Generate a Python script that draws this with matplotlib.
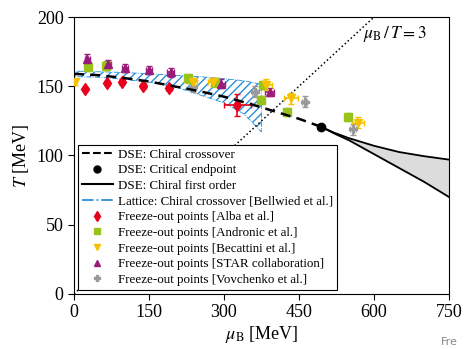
import numpy as np
import matplotlib
matplotlib.use('Agg')
import matplotlib.pyplot as plt
from matplotlib.lines import Line2D

plt.rcParams['font.family'] = ['Liberation Serif', 'DejaVu Serif']
plt.rcParams['mathtext.fontset'] = 'stix'

## DSE chiral crossover (dashed) up to the critical endpoint ##
mu_cross = [0, 50, 100, 150, 200, 250, 300, 350, 400, 450, 495]
T_cross = [159, 158, 156, 153.5, 150, 146.5, 142.5, 137.5, 132, 126.5, 120.6]

## Critical endpoint ##
mu_cep = [495]
T_cep = [120.6]

## DSE first order region (two boundaries) ##
mu_first = [495, 520, 550, 600, 650, 700, 750]
T_first_up = [120.6, 116.5, 112.5, 107, 102.5, 99.5, 97]
T_first_lo = [120.6, 116, 111, 101, 91, 81, 70]

## Lattice crossover band ##
mu_lat = [0, 50, 100, 150, 200, 250, 300, 340, 375]
T_lat_up = [161, 160.5, 160, 159, 158, 157, 155.5, 154, 151.5]
T_lat_lo = [157, 156.5, 155, 153, 150, 144, 138, 130, 117]

## mu_B / T = 3 line ##
mu_ratio = [0, 750]
T_ratio = [0, 250]

## Freeze-out points ##
mu_alba = [22, 67, 97, 139, 191, 327]
T_alba = [147.8, 152.1, 152.8, 150.1, 149.0, 136.5]
xerr_alba = [2, 3, 4, 5, 6, 27]
yerr_alba = [1.5, 1.5, 1.5, 1.5, 1.5, 7.8]

mu_andr = [29, 65, 229, 282, 375, 379, 427, 549]
T_andr = [163.7, 165, 155.7, 152.8, 140, 151, 131.6, 128]

mu_beca = [3, 238, 278, 385, 435, 569]
T_beca = [152.8, 153, 153.3, 151, 141.3, 123.7]
xerr_beca = [2, 8, 10, 12, 14, 12]
yerr_beca = [2, 3, 3, 4, 4, 4]

mu_star = [27, 69, 103, 150, 194, 295, 392]
T_star = [170, 166, 163, 162, 160, 152, 146]
xerr_star = [5, 6, 6, 6, 7, 8, 9]
yerr_star = [3, 3, 3, 3, 3, 3, 3]

mu_vov = [239, 362, 462, 559]
T_vov = [149.7, 146, 138.9, 119]
xerr_vov = [5, 5, 5, 6]
yerr_vov = [4, 4, 4, 4]

c_red = '#e8001c'
c_green = '#99c21a'
c_yel = '#f7c100'
c_pur = '#9a1b79'
c_gray = '#9a9a9a'
c_blue = '#2a8fd8'

fig = plt.figure(figsize=(4.65, 3.49), dpi=100)
ax = fig.add_axes([0.159, 0.158, 0.8066, 0.793])

# lattice band (hatched)
ax.fill_between(mu_lat, T_lat_lo, T_lat_up, facecolor='none', edgecolor=c_blue,
                hatch='////', linewidth=0.6, linestyle='-.', zorder=2)

# freeze-out points
ms = 6
ax.errorbar(mu_andr, T_andr, xerr=6, yerr=3, fmt='s', ms=ms, color=c_green,
            capsize=2.5, elinewidth=1.2, zorder=3)
ax.errorbar(mu_vov, T_vov, xerr=xerr_vov, yerr=yerr_vov, fmt='P', ms=ms, color=c_gray,
            capsize=2.5, elinewidth=1.2, zorder=3)
ax.errorbar(mu_star, T_star, xerr=xerr_star, yerr=yerr_star, fmt='^', ms=ms, color=c_pur,
            capsize=2.5, elinewidth=1.2, zorder=3)
ax.errorbar(mu_beca, T_beca, xerr=xerr_beca, yerr=yerr_beca, fmt='v', ms=ms, color=c_yel,
            capsize=2.5, elinewidth=1.2, zorder=3)
ax.errorbar(mu_alba, T_alba, xerr=xerr_alba, yerr=yerr_alba, fmt='d', ms=ms, color=c_red,
            capsize=2.5, elinewidth=1.2, zorder=3)

# DSE lines
ax.plot(mu_cross, T_cross, '--', color='black', lw=1.8, dashes=(4, 2.5), zorder=4)
ax.fill_between(mu_first, T_first_lo, T_first_up, color='#dcdcdc', zorder=1)
ax.plot(mu_first, T_first_up, '-', color='black', lw=1.3, zorder=4)
ax.plot(mu_first, T_first_lo, '-', color='black', lw=1.3, zorder=4)
ax.plot(mu_cep, T_cep, 'o', color='black', ms=6, zorder=5)

ax.plot(mu_ratio, T_ratio, ':', color='black', lw=1.1, zorder=2)
ax.text(578, 188, r'$\mu_{\rm B}\,/\,T = 3$', fontsize=12.5, va='center')

ax.set_xlim(0, 750)
ax.set_ylim(0, 200)
ax.set_xticks([0, 150, 300, 450, 600, 750])
ax.set_yticks([0, 50, 100, 150, 200])
ax.tick_params(labelsize=13, direction='out', length=4)
ax.set_xlabel(r'$\mu_{\rm B}$ [MeV]', fontsize=13, labelpad=2)
ax.set_ylabel(r'$T$ [MeV]', fontsize=13, labelpad=4)

handles = [
    Line2D([], [], color='black', ls='--', lw=1.5),
    Line2D([], [], color='black', marker='o', ls='none', ms=5),
    Line2D([], [], color='black', ls='-', lw=1.5),
    Line2D([], [], color=c_blue, ls='-.', lw=1.3),
    Line2D([], [], color=c_red, marker='d', ls='none', ms=5),
    Line2D([], [], color=c_green, marker='s', ls='none', ms=5),
    Line2D([], [], color=c_yel, marker='v', ls='none', ms=5),
    Line2D([], [], color=c_pur, marker='^', ls='none', ms=5),
    Line2D([], [], color=c_gray, marker='P', ls='none', ms=5),
]
labels = [
    'DSE: Chiral crossover',
    'DSE: Critical endpoint',
    'DSE: Chiral first order',
    'Lattice: Chiral crossover [Bellwied et al.]',
    'Freeze-out points [Alba et al.]',
    'Freeze-out points [Andronic et al.]',
    'Freeze-out points [Becattini et al.]',
    'Freeze-out points [STAR collaboration]',
    'Freeze-out points [Vovchenko et al.]',
]
leg = ax.legend(handles, labels, loc='lower left', fontsize=9.4, frameon=True,
                fancybox=False, framealpha=1, edgecolor='black', handlelength=2.4,
                handletextpad=0.35, labelspacing=0.27, borderpad=0.3, borderaxespad=0.3)
leg.get_frame().set_linewidth(0.8)

fig.text(0.948, 0.012, 'Fre', fontsize=8, color='#888888', family='DejaVu Sans')

plt.savefig('out.png', dpi=100)
